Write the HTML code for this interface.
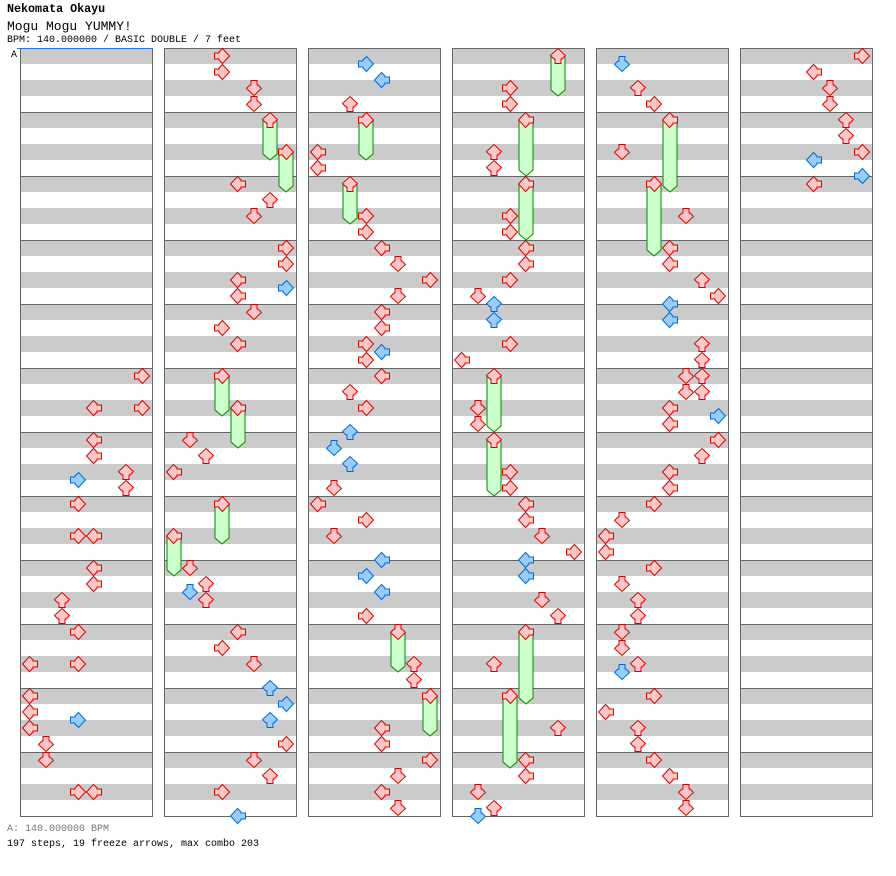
<!DOCTYPE html>
<html><head><meta charset="utf-8">
<style>
html,body{margin:0;padding:0;background:#fff;}
body{width:896px;height:876px;position:relative;overflow:hidden;font-family:"Liberation Mono",monospace;}
.t{position:absolute;left:7px;white-space:pre;line-height:1;}
svg{position:absolute;left:0;top:0;}
</style></head><body>
<div class="t" style="top:4px;font-size:11.7px;font-weight:bold;">Nekomata Okayu</div>
<div class="t" style="top:20px;font-size:13px;">Mogu Mogu YUMMY!</div>
<div class="t" style="top:36px;font-size:10px;">BPM: 140.000000 / BASIC DOUBLE / 7 feet</div>
<div class="t" style="top:825px;font-size:10px;color:#777;">A: 140.000000 BPM</div>
<div class="t" style="top:840px;font-size:10px;">197 steps, 19 freeze arrows, max combo 203</div>
<svg id="s" width="896" height="876" xmlns="http://www.w3.org/2000/svg">
<text x="11" y="57" font-family="Liberation Mono, monospace" font-size="10">A</text>
</svg>
<script>
var cols=[
"376:7,408:4,408:7,440:4,456:4,472:6,480:3,488:6,504:3,536:3,536:4,568:4,584:4,600:2,616:2,632:3,664:0,664:3,696:0,712:0,720:3,728:0,744:1,760:1,792:3,792:4",
"56:3,72:3,88:5,104:5,120:6:160,152:7:192,184:4,200:6,216:5,248:7,264:7,280:4,288:7,296:4,312:5,328:3,344:4,376:3:416,408:4:448,440:1,456:2,472:0,504:3:544,536:0:576,568:1,584:2,592:1,600:2,632:4,648:3,664:5,688:6,704:7,720:6,744:7,760:5,776:6,792:3,816:4",
"64:3,80:4,104:2,120:3:160,152:0,168:0,184:2:224,216:3,232:3,248:4,264:5,280:7,296:5,312:4,328:4,344:3,352:4,360:3,376:4,392:2,408:3,432:2,448:1,464:2,488:1,504:0,520:3,536:1,560:4,576:3,592:4,616:3,632:5:672,664:6,680:6,696:7:736,728:4,744:4,760:7,776:5,792:4,808:5",
"56:6:96,88:3,104:3,120:4:176,152:2,168:2,184:4:240,216:3,232:3,248:4,264:4,280:3,296:1,304:2,320:2,344:3,360:0,376:2:432,408:1,424:1,440:2:496,472:3,488:3,504:4,520:4,536:5,552:7,560:4,576:4,600:5,616:6,632:4:704,664:2,696:3:768,728:6,760:4,776:4,792:1,808:2,816:1",
"64:1,88:2,104:3,120:4:192,152:1,184:3:256,216:5,248:4,264:4,280:6,296:7,304:4,320:4,344:6,360:6,376:5,376:6,392:5,392:6,408:4,416:7,424:4,440:7,456:6,472:4,488:4,504:3,520:1,536:0,552:0,568:3,584:1,600:2,616:2,632:1,648:1,664:2,672:1,696:3,712:0,728:2,744:2,760:3,776:4,792:5,808:5",
"56:7,72:4,88:5,104:5,120:6,136:6,152:7,160:4,176:7,184:4"];
var X=[20,164,308,452,596,740];
var h='';
X.forEach(function(x){
  h+='<rect x="'+x+'" y="48" width="132" height="768" fill="#fff"/>';
  for(var m=0;m<12;m++){var y=48+m*64;
    h+='<rect x="'+x+'" y="'+y+'" width="132" height="16" fill="#cbcbcb"/>';
    h+='<rect x="'+x+'" y="'+(y+32)+'" width="132" height="16" fill="#cbcbcb"/>';
    if(m>0)h+='<line x1="'+x+'" x2="'+(x+132)+'" y1="'+(y+0.5)+'" y2="'+(y+0.5)+'" stroke="#666"/>';
  }
  h+='<rect x="'+(x+0.5)+'" y="48.5" width="132" height="768" fill="none" stroke="#666"/>';
});
h+='<line x1="17" x2="153" y1="48.5" y2="48.5" stroke="#2277dd"/>';
var rot=[90,0,180,270];
var arrow='M-3,-7.5 L3,-7.5 L3,-3 L4,-3 L7.5,0.5 L0,7.5 L-7.5,0.5 L-4,-3 L-3,-3 Z';
var fr='',ar='';
cols.forEach(function(s,ci){
  s.split(',').forEach(function(e){
    var p=e.split(':').map(Number),y=p[0],l=p[1],c=X[ci]+10+16*l;
    if(p.length>2){var ye=p[2];
      fr+='<polygon points="'+(c-7)+','+y+' '+(c+7)+','+y+' '+(c+7)+','+(ye-6)+' '+c+','+ye+' '+(c-7)+','+(ye-6)+'" fill="#ccffcc" stroke="#008800" stroke-width="1"/>';}
    var blue=(y%16==0);
    ar+='<path d="'+arrow+'" transform="translate('+c+','+y+') rotate('+rot[l%4]+')" fill="'+(blue?'#99ccff':'#ffc8c8')+'" stroke="'+(blue?'#0066dd':'#dd0000')+'" stroke-width="1"/>';
  });
});
var sv=document.getElementById('s');
sv.innerHTML=h+fr+ar+sv.innerHTML;
</script>
</body></html>
